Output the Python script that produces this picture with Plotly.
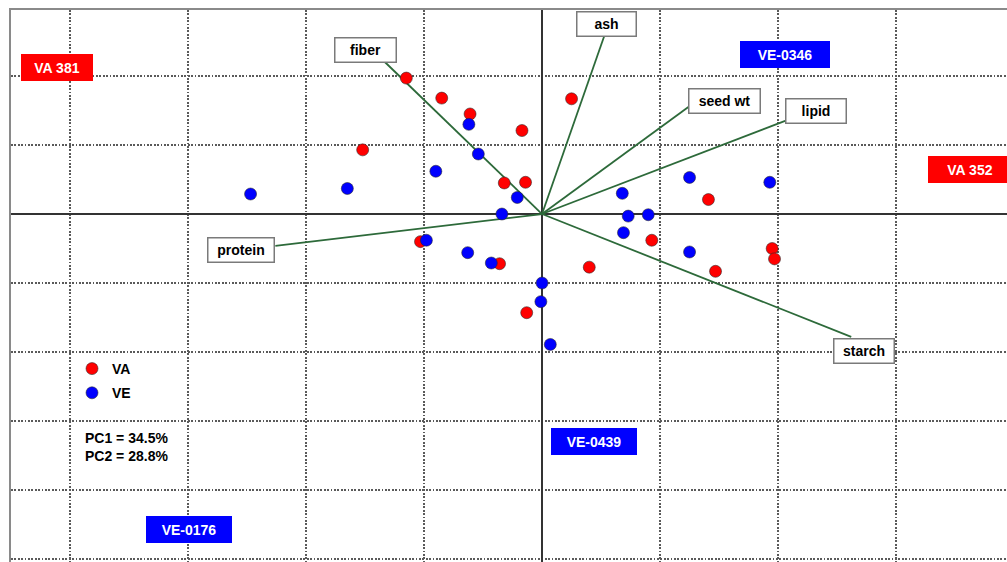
import plotly.graph_objects as go

# PCA scores (PC1, PC2) for the two groups
va_pc1 = [-1.15, -0.85, -0.61, -0.17, -1.52, -0.32, -0.14, 0.25, 1.41,
          -1.03, -0.36, 0.40, 0.93, -0.13, 1.47, 1.95, 1.97]
va_pc2 = [1.97, 1.68, 1.45, 1.21, 0.93, 0.45, 0.46, 1.67, 0.21,
          -0.40, -0.72, -0.77, -0.38, -1.43, -0.83, -0.50, -0.65]

ve_pc1 = [-2.47, -1.65, -0.62, -0.54, -0.90, -0.21, -0.34, -0.98, -0.63, -0.43,
          0.00, -0.01, 0.07, 0.68, 0.73, 0.90, 0.69, 1.25, 1.93, 1.25]
ve_pc2 = [0.29, 0.37, 1.30, 0.87, 0.62, 0.24, 0.00, -0.38, -0.56, -0.71,
          -1.00, -1.27, -1.89, 0.30, -0.03, -0.01, -0.27, 0.53, 0.46, -0.55]

# Variable loadings (scaled vector tips)
variables = ["fiber", "ash", "seed wt", "lipid", "protein", "starch"]
load_pc1 = [-1.33, 0.525, 1.24, 2.06, -2.26, 2.62]
load_pc2 = [2.20, 2.57, 1.55, 1.35, -0.46, -1.78]

# Where each variable name box sits
var_label_x = [-1.494, 0.542, 1.545, 2.320, -2.549, 2.726]
var_label_y = [2.384, 2.754, 1.645, 1.500, -0.522, -1.978]
var_label_w = [63, 61, 73, 62, 68, 62]

# Named accessions and their label positions
accessions = ["VA 381", "VE-0346", "VA 352", "VE-0439", "VE-0176"]
accession_group = ["VA", "VE", "VA", "VE", "VE"]
acc_label_x = [-4.107, 2.058, 3.624, 0.440, -2.989]
acc_label_y = [2.130, 2.319, 0.645, -3.300, -4.565]
acc_label_w = [72, 90, 84, 86, 86]

pc_variance = {"PC1": 34.5, "PC2": 28.8}

RED = "#ff0000"
BLUE = "#0000ff"
GREEN = "#2d6a3a"
FONT = "Liberation Sans, Arial, sans-serif"

fig = go.Figure()

# loading vectors
for name, lx, ly in zip(variables, load_pc1, load_pc2):
    fig.add_trace(go.Scatter(
        x=[0, lx], y=[0, ly], mode="lines",
        line=dict(color=GREEN, width=1.8),
        showlegend=False, hoverinfo="skip", name=name))

marker_line = dict(color="rgba(40,40,40,0.7)", width=0.8)
fig.add_trace(go.Scatter(
    x=va_pc1, y=va_pc2, mode="markers", name="VA", legendgroup="va",
    marker=dict(color=RED, size=12, line=marker_line)))
fig.add_trace(go.Scatter(
    x=ve_pc1, y=ve_pc2, mode="markers", name="VE", legendgroup="ve",
    marker=dict(color=BLUE, size=12, line=marker_line)))

annotations = []
for name, x, y, w in zip(variables, var_label_x, var_label_y, var_label_w):
    annotations.append(dict(
        x=x, y=y, xref="x", yref="y", text=name, showarrow=False,
        font=dict(family=FONT, size=14, color="black", weight="bold"),
        bgcolor="white", bordercolor="#7a7a7a", borderwidth=1.5, borderpad=0,
        width=w - 3, height=23, align="center", valign="middle"))

for name, grp, x, y, w in zip(accessions, accession_group, acc_label_x, acc_label_y, acc_label_w):
    col = RED if grp == "VA" else BLUE
    annotations.append(dict(
        x=x, y=y, xref="x", yref="y", text=name, showarrow=False,
        font=dict(family=FONT, size=14, color="white", weight="bold"),
        bgcolor=col, bordercolor=col, borderwidth=1, borderpad=0,
        width=w - 2, height=25, align="center", valign="middle"))

annotations.append(dict(
    x=-3.89, y=-3.383, xref="x", yref="y", xanchor="left", yanchor="middle",
    text="<br>".join(f"{k} = {v}%" for k, v in pc_variance.items()),
    showarrow=False, align="left",
    font=dict(family=FONT, size=14, color="black", weight="bold")))

dotted = "1.8px,1.6px"
fig.update_layout(
    width=1007, height=562,
    margin=dict(l=11, r=0, t=10, b=0),
    paper_bgcolor="white", plot_bgcolor="white",
    annotations=annotations,
    showlegend=True,
    legend=dict(
        x=(72 - 11) / 996, y=1 - (353 - 10) / 552, xref="paper", yref="paper",
        xanchor="left", yanchor="top", bgcolor="rgba(0,0,0,0)",
        font=dict(family=FONT, size=14, color="black", weight="bold"),
        tracegroupgap=3, itemsizing="trace"),
    xaxis=dict(
        range=[-4.5, 3.94], dtick=1, tick0=0, showticklabels=False, ticks="",
        showgrid=True, gridcolor="#5a5a5a", gridwidth=1.6, griddash=dotted,
        zeroline=True, zerolinecolor="#333333", zerolinewidth=2,
        showline=True, side="top", linecolor="#8a8a8a", linewidth=2),
    yaxis=dict(
        range=[-5.043, 2.957], dtick=1, tick0=0, showticklabels=False, ticks="",
        showgrid=True, gridcolor="#5a5a5a", gridwidth=1.6, griddash=dotted,
        zeroline=True, zerolinecolor="#333333", zerolinewidth=2,
        showline=True, side="left", linecolor="#8a8a8a", linewidth=2),
)

fig.write_html("out.html")
